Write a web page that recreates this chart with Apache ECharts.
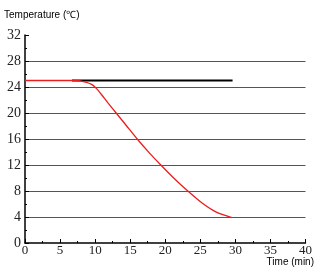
<!DOCTYPE html>
<html><head><meta charset="utf-8">
<script src="https://cdn.jsdelivr.net/npm/echarts@6/dist/echarts.min.js"></script>
<style>html,body{margin:0;padding:0;background:#fff}#c{width:315px;height:267px}</style>
</head><body><div id="c"></div>
<script>
const xTicks = [0, 5, 10, 15, 20, 25, 30, 35, 40];
const yTicks = [0, 4, 8, 12, 16, 20, 24, 28, 32];
const coolTime = [0, 7, 8.5, 9.5, 10.2, 10.9, 11.8, 13, 14.5, 16, 17.7, 19.4, 21.2, 23.1, 25.3, 27.2, 29.5];
const coolTemp = [25, 25, 24.8, 24.4, 23.75, 22.85, 21.6, 20.0, 18.0, 16.0, 13.9, 11.95, 10.0, 8.1, 6.1, 4.8, 3.9];
const refTime = [6.7, 29.6];
const refTemp = [25, 25];

const chart = echarts.init(document.getElementById('c'), null, {renderer: 'canvas'});
const serif = 'Liberation Serif';
chart.setOption({
  animation: false,
  textStyle: {fontFamily: serif},
  grid: {left: 25, right: 8, top: 35, bottom: 24, containLabel: false},
  xAxis: {
    type: 'value', min: xTicks[0], max: xTicks[xTicks.length - 1], interval: 5,
    axisLine: {show: true, lineStyle: {color: '#000', width: 1.5}},
    axisTick: {show: true, inside: true, length: 4, lineStyle: {color: '#000'}},
    minorTick: {show: true, splitNumber: 2, length: 2, lineStyle: {color: '#000'}},
    axisLabel: {fontFamily: serif, fontSize: 13, color: '#222', margin: 1},
    splitLine: {show: false}
  },
  yAxis: {
    type: 'value', min: yTicks[0], max: yTicks[yTicks.length - 1], interval: 4,
    axisLine: {show: true, lineStyle: {color: '#000', width: 1.5}},
    axisTick: {show: true, inside: true, length: 4, lineStyle: {color: '#000'}},
    minorTick: {show: true, splitNumber: 2, length: 2, lineStyle: {color: '#000'}},
    axisLabel: {fontFamily: serif, fontSize: 14, color: '#222', margin: 4},
    splitLine: {show: true, showMinLine: false, showMaxLine: false, lineStyle: {color: '#555', width: 1}}
  },
  graphic: [
    {type: 'text', left: 4, top: 10, style: {text: 'Temperature (℃)', font: '10px "Liberation Sans"', fill: '#000'}},
    {type: 'text', right: 1, top: 257, style: {text: 'Time (min)', font: '10px "Liberation Sans"', fill: '#000'}}
  ],
  series: [
    {type: 'line', data: refTime.map((t, i) => [t, refTemp[i]]), showSymbol: false,
     lineStyle: {color: '#000', width: 2}, z: 3},
    {type: 'line', data: coolTime.map((t, i) => [t, coolTemp[i]]), showSymbol: false, smooth: 0.2,
     lineStyle: {color: '#ee1c1c', width: 1.3}, z: 4}
  ]
});
</script></body></html>
